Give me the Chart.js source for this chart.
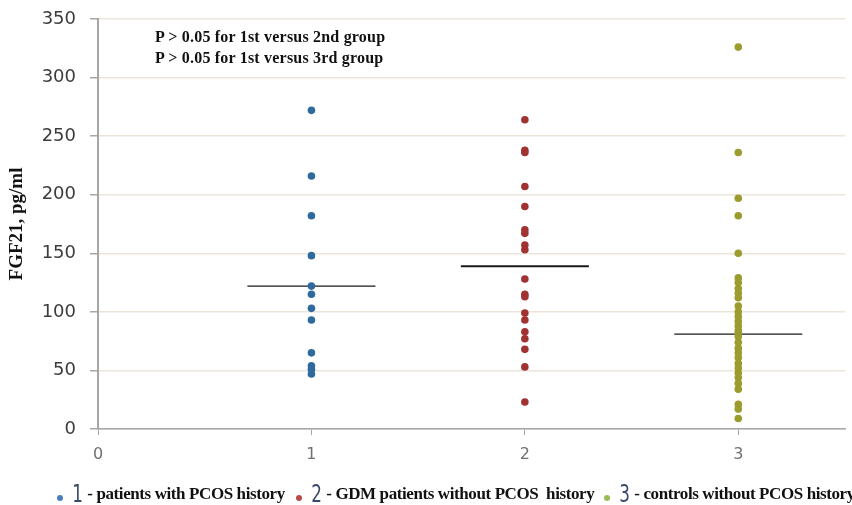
<!DOCTYPE html>
<html>
<head>
<meta charset="utf-8">
<script src="https://cdn.jsdelivr.net/npm/chart.js@4"></script>
<style>
  body { margin: 0; background: #fff; }
  #wrap { position: relative; width: 852px; height: 505px; overflow: hidden; }
  #fgfChart { position: absolute; left: 0; top: 0; }
  .note { position: absolute; left: 155px; font: bold 16px "Liberation Serif", serif; color: #111; white-space: nowrap; letter-spacing: 0.2px; }
  .leg { position: absolute; top: 480px; display: flex; align-items: center; white-space: nowrap; }
  .leg .dot { width: 6px; height: 6px; border-radius: 50%; margin-right: 7px; margin-top: 8px; }
  .leg .num { font: 24px "DejaVu Sans", sans-serif; color: #3a4a6a; margin-right: 2px; display: inline-block; transform: scaleX(0.7); }
  .leg .txt { font: bold 17px "Liberation Serif", serif; color: #111; letter-spacing: -0.4px; }
</style>
</head>
<body>
<div id="wrap">
  <canvas id="fgfChart" width="852" height="505"></canvas>
  <div class="note" style="top:28px">P &gt; 0.05 for 1st versus 2nd group</div>
  <div class="note" style="top:49px">P &gt; 0.05 for 1st versus 3rd group</div>
  <div class="leg" style="left:57px"><span class="dot" style="background:#4a7ebb"></span><span class="num">1</span><span class="txt">- patients with PCOS history</span></div>
  <div class="leg" style="left:296px"><span class="dot" style="background:#b94a48"></span><span class="num">2</span><span class="txt">- GDM patients without PCOS&nbsp; history</span></div>
  <div class="leg" style="left:604px"><span class="dot" style="background:#9bbb59"></span><span class="num">3</span><span class="txt">- controls without PCOS history</span></div>
</div>
<script>
// FGF21 levels per group
const groupIds = [1, 2, 3];
const pcosValues = [272, 216, 182, 148, 122, 115, 103, 93, 65, 54, 51, 47];
const gdmValues = [264, 238, 236, 207, 190, 170, 167, 157, 153, 128, 115, 113, 99, 93, 83, 77, 68, 53, 23];
const controlValues = [326, 236, 197, 182, 150, 129, 125, 120, 116, 112, 105, 100, 96, 92, 88, 84, 82, 79,
                       74, 69, 65, 61, 56, 52, 48, 44, 39, 34, 21, 17, 9];
const medians = [122, 139, 81];
const yTicks = [0, 50, 100, 150, 200, 250, 300, 350];

const pointColors = ['#2f6a9e', '#a03232', '#9c9b2e'];
const allGroups = [pcosValues, gdmValues, controlValues];

const datasets = [];
allGroups.forEach((vals, i) => {
    datasets.push({
        type: 'scatter',
        data: vals.map(v => ({ x: groupIds[i], y: v })),
        backgroundColor: pointColors[i],
        borderColor: pointColors[i],
        borderWidth: 0,
        pointRadius: 3.8,
        order: 1
    });
    datasets.push({
        type: 'line',
        data: [{ x: groupIds[i] - 0.3, y: medians[i] }, { x: groupIds[i] + 0.3, y: medians[i] }],
        borderColor: '#1a1a1a',
        borderWidth: i === 1 ? 2 : 1.4,
        pointRadius: 0,
        order: 2
    });
});

const ctx = document.getElementById('fgfChart').getContext('2d');
const fgfChart = new Chart(ctx, {
    type: 'scatter',
    data: { datasets: datasets },
    options: {
        responsive: false,
        animation: false,
        layout: { padding: { left: 0, right: 7, top: 19, bottom: 36 } },
        plugins: { legend: { display: false }, tooltip: { enabled: false } },
        scales: {
            x: {
                type: 'linear',
                min: 0,
                max: 3.5,
                afterFit: s => { s.height = 40; },
                ticks: {
                    stepSize: 1,
                    includeBounds: false,
                    padding: 10,
                    color: '#707070',
                    font: { family: 'DejaVu Sans', size: 16 }
                },
                grid: { drawOnChartArea: false, drawTicks: true, tickLength: 6, tickColor: '#a6a6a6' },
                border: { color: '#a6a6a6', width: 1.5 }
            },
            y: {
                min: 0,
                max: 350,
                afterFit: s => { s.width = 98; s.paddingTop = 0; },
                afterBuildTicks: s => { s.ticks = yTicks.map(v => ({ value: v })); },
                ticks: {
                    padding: 14,
                    color: '#3c3c3c',
                    font: { family: 'DejaVu Sans', size: 18 }
                },
                grid: { color: '#ece5dc', lineWidth: 1.5, tickLength: 8, tickColor: '#a6a6a6' },
                border: { color: '#a6a6a6', width: 2 },
                title: {
                    display: true,
                    text: 'FGF21, pg/ml',
                    color: '#111',
                    padding: { top: 6, bottom: 0 },
                    font: { family: 'Liberation Serif', size: 19, weight: 'bold' }
                }
            }
        }
    }
});
</script>
</body>
</html>
